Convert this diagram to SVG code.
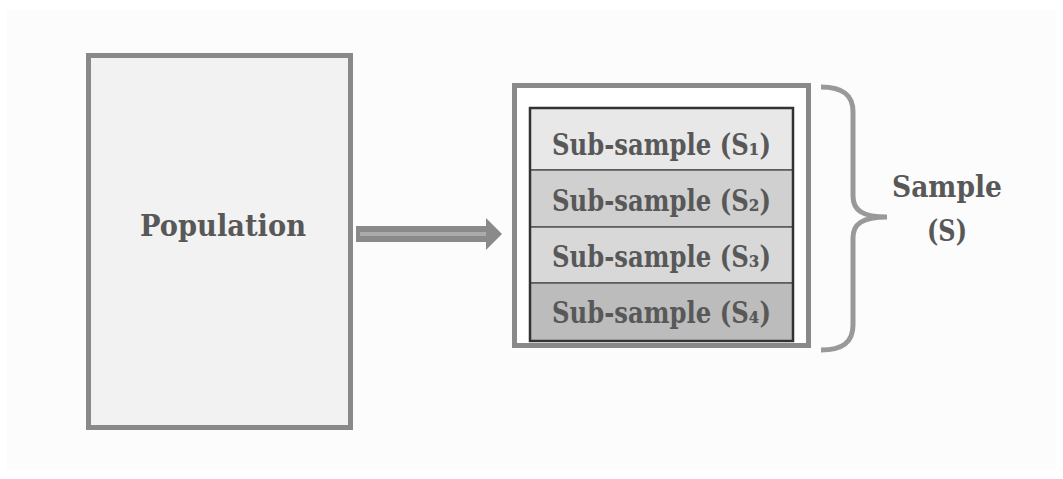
<svg xmlns="http://www.w3.org/2000/svg" width="1063" height="479" viewBox="0 0 1063 479">
  <style>
    .lbl { font-family: "DejaVu Serif", "Liberation Serif", serif; font-weight: bold; fill: #585858; font-size: 29px; }
    .row { stroke: #555555; stroke-width: 1.5; }
  </style>
  <rect x="0" y="0" width="1063" height="479" fill="#ffffff"/>
  <rect x="7" y="10" width="1049" height="460" fill="#fcfcfc"/>

  <g id="population">
    <rect x="88.5" y="55.5" width="262" height="372" fill="#f2f2f2" stroke="#898989" stroke-width="5"/>
    <text class="lbl" x="223" y="236" text-anchor="middle" textLength="166" lengthAdjust="spacingAndGlyphs">Population</text>
  </g>

  <g id="connectors">
    <!-- broad block arrow with a light centre stripe -->
    <polygon points="356,226 486,226 486,218 502,234 486,250 486,242 356,242" fill="#8a8a8a"/>
    <rect x="360" y="232" width="126" height="4" fill="#ababab"/>
  </g>

  <g id="sample">
    <rect x="514.5" y="85.5" width="294" height="260" fill="#ffffff" stroke="#898989" stroke-width="5"/>
    <g id="sub1">
      <rect class="row" x="530" y="108" width="263" height="62" fill="#e8e8e8"/>
      <text class="lbl" x="661.5" y="155" text-anchor="middle" textLength="219" lengthAdjust="spacingAndGlyphs">Sub-sample (S₁)</text>
    </g>
    <g id="sub2">
      <rect class="row" x="530" y="170" width="263" height="57" fill="#d0d0d0"/>
      <text class="lbl" x="661.5" y="211" text-anchor="middle" textLength="219" lengthAdjust="spacingAndGlyphs">Sub-sample (S₂)</text>
    </g>
    <g id="sub3">
      <rect class="row" x="530" y="227" width="263" height="56" fill="#d8d8d8"/>
      <text class="lbl" x="661.5" y="267" text-anchor="middle" textLength="219" lengthAdjust="spacingAndGlyphs">Sub-sample (S₃)</text>
    </g>
    <g id="sub4">
      <rect class="row" x="530" y="283" width="263" height="58" fill="#bcbcbc"/>
      <text class="lbl" x="661.5" y="323" text-anchor="middle" textLength="219" lengthAdjust="spacingAndGlyphs">Sub-sample (S₄)</text>
    </g>
    <rect x="530" y="108" width="263" height="233" fill="none" stroke="#333333" stroke-width="2.5"/>
  </g>

  <g id="brace">
    <path d="M821,87 C843,87 853,95 853,112 L853,196 C853,210 862,217 887,217 C862,217 853,224 853,238 L853,325 C853,342 843,350 821,350" fill="none" stroke="#999999" stroke-width="5"/>
    <text class="lbl" x="947" y="197" text-anchor="middle" textLength="110" lengthAdjust="spacingAndGlyphs">Sample</text>
    <text class="lbl" x="947" y="241" text-anchor="middle" textLength="40" lengthAdjust="spacingAndGlyphs">(S)</text>
  </g>
</svg>
